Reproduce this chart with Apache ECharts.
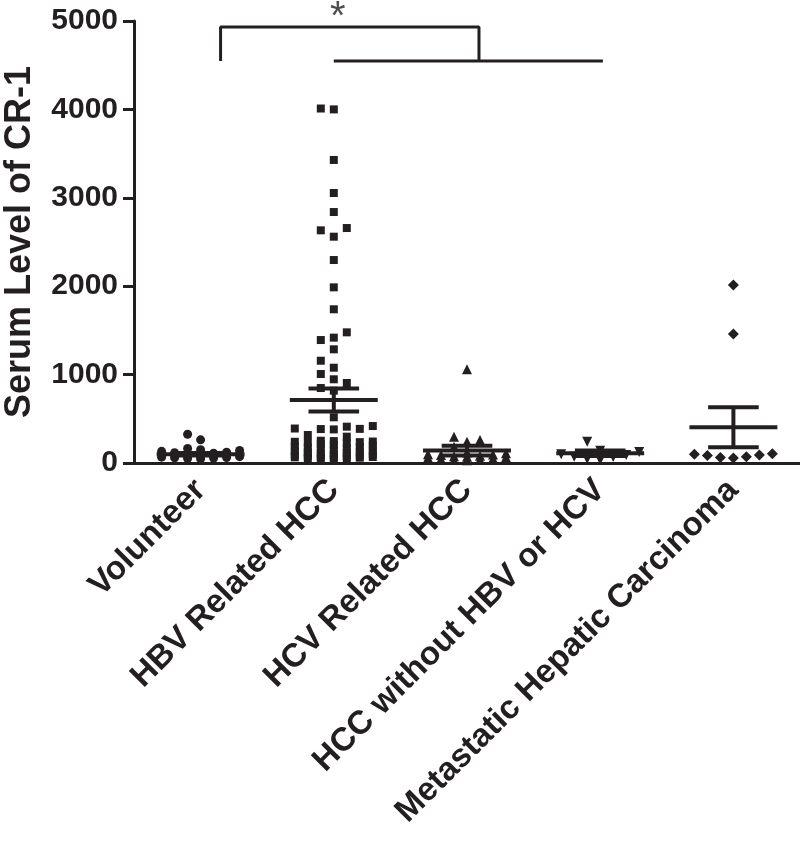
<!DOCTYPE html>
<html><head><meta charset="utf-8">
<script src="https://cdn.jsdelivr.net/npm/echarts@6/dist/echarts.min.js"></script>
<style>html,body{margin:0;padding:0;background:#fff}#c{width:800px;height:846px}</style>
</head><body><div id="c"></div>
<script>
// ---- data ----
const categories = ['Volunteer', 'HBV Related HCC', 'HCV Related HCC', 'HCC without HBV or HCV', 'Metastatic Hepatic Carcinoma'];
const yTicks = [0, 1000, 2000, 3000, 4000, 5000];
const volunteer = [325, 262, 165, 150, 142, 132, 122, 116, 110, 106, 100, 96, 92, 90, 86, 82, 80, 76, 72, 66, 62, 60, 56, 50, 46];
const hbvHCC = [4010, 4000, 3428, 3054, 2839, 2658, 2632, 2560, 2296, 1987, 1739, 1478, 1418, 1391, 1286, 1157, 1078, 1007, 947, 905, 848, 818,
  517, 418, 411, 390, 386, 384, 380, 317, 298, 252, 248, 243, 240, 236, 232, 225, 215, 205, 195, 188, 180, 172, 165, 158, 150, 143, 136, 130,
  120, 115, 110, 104, 98, 92, 88, 84, 80, 76, 72, 68, 64, 60, 55, 50, 45, 40];
const hcvHCC = [1060, 298, 260, 241, 185, 120, 110, 100, 95, 90, 82, 75, 70, 64, 58, 52, 45, 40, 35, 30];
const hccOther = [241, 139, 125, 100, 90, 71, 68, 45, 34];
const metastatic = [2013, 1459, 105, 98, 90, 85, 71, 62, 56];
const groupMeans = [100, 712, 140, 110, 404];
const groupSEM = [14, 130, 55, 30, 226];
// significance bracket (x in category units, y in data units)
const bracketA = [[0.65, 4548], [0.65, 4932], [2.59, 4932], [2.59, 4548]];
const bracketB = [[1.5, 4548], [3.52, 4548]];
const starMark = [[1.53, 5035]];

// ---- layout / style ----
const INK = '#231f20';
const FONT = "'Liberation Sans', Arial, sans-serif";
const GRID = {left: 134, top: 21, right: 0, height: 442, outerBoundsMode: 'none', containLabel: false};
const groups = [volunteer, hbvHCC, hcvHCC, hccOther, metastatic];
const symbols = ['circle', 'rect', 'triangle', 'triangle', 'diamond'];
const symRot = [0, 0, 0, 180, 0];
const symSize = [9, 8, 10, 10, 11];
const SLOT = 13 / (800 - GRID.left) * 5; // slot spacing in category units
const unitsPerPx = 5000 / GRID.height;

// GraphPad-like column scatter placement
function swarm(values, ci, maxSlot) {
  const order = [0];
  for (let k = 1; k <= maxSlot; k++) order.push(-k, k);
  const thr = 9.5 * unitsPerPx;
  const placed = [];
  return values.slice().sort((a, b) => a - b).map(v => {
    let chosen = null, bestGap = -1, bestS = 0;
    for (const s of order) {
      let gap = Infinity;
      for (const p of placed) if (p.s === s) gap = Math.min(gap, Math.abs(p.v - v));
      if (gap >= thr) { chosen = s; break; }
      if (gap > bestGap + 1e-9) { bestGap = gap; bestS = s; }
    }
    if (chosen === null) chosen = bestS;
    placed.push({s: chosen, v});
    return [ci + 0.5 + chosen * SLOT, v];
  });
}

const chart = echarts.init(document.getElementById('c'), null, {renderer: 'canvas'});
const series = groups.map((g, i) => ({
  type: 'scatter', xAxisIndex: 1, yAxisIndex: 0,
  symbol: symbols[i], symbolRotate: symRot[i], symbolSize: symSize[i],
  itemStyle: {color: INK, opacity: 1}, data: swarm(g, i, 3), z: 2, silent: true
}));
series.push({
  type: 'custom', xAxisIndex: 0, yAxisIndex: 0, z: 3, silent: true,
  data: categories.map((c, i) => [i, groupMeans[i], groupSEM[i]]),
  encode: {x: 0, y: 1},
  renderItem: (params, api) => {
    const i = api.value(0), m = api.value(1), s = api.value(2);
    const band = api.size([1, 0])[0];
    const c = api.coord([i, m]), t = api.coord([i, m + s]), b = api.coord([i, m - s]);
    const hw = band * 0.33, cw = band * 0.19;
    const st = {stroke: INK, lineWidth: 4};
    return {type: 'group', children: [
      {type: 'line', shape: {x1: c[0] - hw, y1: c[1], x2: c[0] + hw, y2: c[1]}, style: st},
      {type: 'line', shape: {x1: c[0], y1: t[1], x2: c[0], y2: b[1]}, style: st},
      {type: 'line', shape: {x1: c[0] - cw, y1: t[1], x2: c[0] + cw, y2: t[1]}, style: st},
      {type: 'line', shape: {x1: c[0] - cw, y1: b[1], x2: c[0] + cw, y2: b[1]}, style: st}
    ]};
  }
});
[bracketA, bracketB].forEach(d => series.push({
  type: 'line', xAxisIndex: 1, yAxisIndex: 0, data: d, symbol: 'none', silent: true,
  lineStyle: {color: INK, width: 3}, z: 4, animation: false
}));
series.push({
  type: 'scatter', xAxisIndex: 1, yAxisIndex: 0, data: starMark, symbolSize: 1, clip: false,
  itemStyle: {color: 'rgba(0,0,0,0)'}, silent: true,
  label: {show: true, position: 'inside', formatter: '*', fontSize: 40, color: INK, fontFamily: FONT}
});

chart.setOption({
  animation: false,
  backgroundColor: '#fff',
  grid: GRID,
  xAxis: [{
    type: 'category', data: categories, boundaryGap: true,
    axisLine: {lineStyle: {color: INK, width: 3}},
    axisTick: {alignWithLabel: true, length: 12, lineStyle: {color: INK, width: 3}},
    axisLabel: {rotate: 45, interval: 0, margin: 22, color: INK, fontSize: 33, fontWeight: 'bold', fontFamily: FONT},
    splitLine: {show: false}
  }, {
    type: 'value', min: 0, max: 5, show: false, splitLine: {show: false}
  }],
  yAxis: [{
    type: 'value', min: yTicks[0], max: yTicks[yTicks.length - 1], interval: yTicks[1] - yTicks[0],
    name: 'Serum Level of CR-1', nameLocation: 'middle', nameRotate: 90, nameGap: 96,
    nameTextStyle: {fontSize: 36, fontWeight: 'bold', color: INK, fontFamily: FONT},
    axisLine: {show: true, lineStyle: {color: INK, width: 3}},
    axisTick: {show: true, length: 11, lineStyle: {color: INK, width: 3}},
    axisLabel: {margin: 16, color: INK, fontSize: 30, fontWeight: 'bold', fontFamily: FONT, formatter: v => String(v)},
    splitLine: {show: false}
  }],
  series
});
</script></body></html>
